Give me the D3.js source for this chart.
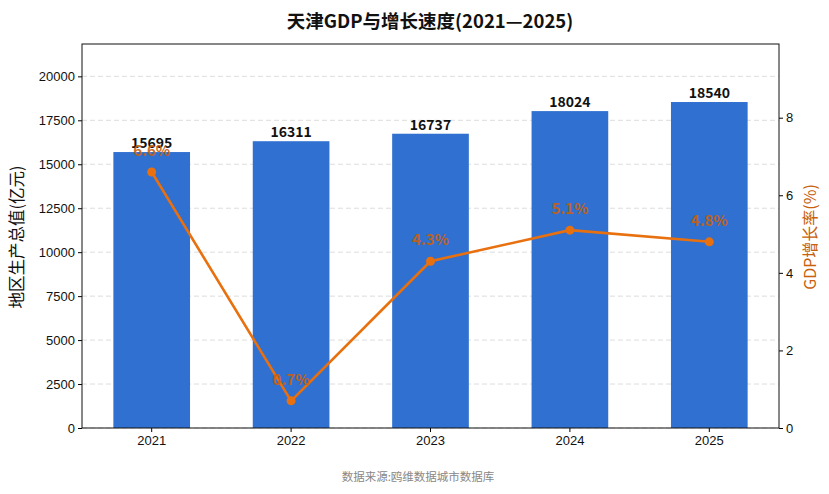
<!DOCTYPE html>
<html>
<head>
<meta charset="utf-8">
<script src="https://cdn.jsdelivr.net/npm/d3@7"></script>
<style>
  body { margin: 0; background: #fff; }
  svg { font-family: "Noto Sans CJK SC", "Noto Sans", sans-serif; }
</style>
</head>
<body>
<svg id="chart" width="829" height="494"></svg>
<script>
const years = ["2021", "2022", "2023", "2024", "2025"];
const gdpValues = [15695, 16311, 16737, 18024, 18540];
const growthRates = [6.6, 0.7, 4.3, 5.1, 4.8];
const leftTicks = [0, 2500, 5000, 7500, 10000, 12500, 15000, 17500, 20000];
const rightTicks = [0, 2, 4, 6, 8];

const svg = d3.select("#chart");
const margin = { top: 44, right: 50, bottom: 66, left: 82 };
const width = 829 - margin.left - margin.right;
const height = 494 - margin.top - margin.bottom;

const g = svg.append("g").attr("transform", `translate(${margin.left},${margin.top})`);

const x = d3.scaleBand().domain(years).range([0, width]).paddingInner(0.45).paddingOuter(0.225);
const yLeft = d3.scaleLinear().domain([0, d3.max(gdpValues) * 1.178]).range([height, 0]);
const yRight = d3.scaleLinear().domain([0, d3.max(growthRates) * 1.5]).range([height, 0]);

// grid
g.selectAll(".grid")
  .data(leftTicks)
  .enter()
  .append("line")
  .attr("class", "grid")
  .attr("x1", 0)
  .attr("x2", width)
  .attr("y1", (d) => yLeft(d))
  .attr("y2", (d) => yLeft(d))
  .attr("stroke", "#dddddd")
  .attr("stroke-dasharray", "5,3")
  .attr("stroke-width", 1);

// bars
g.selectAll(".bar")
  .data(gdpValues)
  .enter()
  .append("rect")
  .attr("class", "bar")
  .attr("x", (d, i) => x(years[i]))
  .attr("y", (d) => yLeft(d))
  .attr("width", x.bandwidth())
  .attr("height", (d) => height - yLeft(d))
  .attr("fill", "#3070d0");

g.selectAll(".barLabel")
  .data(gdpValues)
  .enter()
  .append("text")
  .attr("class", "barLabel")
  .attr("x", (d, i) => x(years[i]) + x.bandwidth() / 2)
  .attr("y", (d) => yLeft(d) - 4)
  .attr("text-anchor", "middle")
  .style("font-size", "14px")
  .style("font-weight", "bold")
  .style("fill", "#111")
  .text((d) => d);

// line
const cx = (i) => x(years[i]) + x.bandwidth() / 2;
const line = d3.line()
  .x((d, i) => cx(i))
  .y((d) => yRight(d));

g.append("path")
  .datum(growthRates)
  .attr("fill", "none")
  .attr("stroke", "#e8700e")
  .attr("stroke-width", 2.6)
  .attr("d", line);

g.selectAll(".dot")
  .data(growthRates)
  .enter()
  .append("circle")
  .attr("class", "dot")
  .attr("cx", (d, i) => cx(i))
  .attr("cy", (d) => yRight(d))
  .attr("r", 4.5)
  .attr("fill", "#e8700e");

g.selectAll(".rateLabel")
  .data(growthRates)
  .enter()
  .append("text")
  .attr("class", "rateLabel")
  .attr("x", (d, i) => cx(i))
  .attr("y", (d) => yRight(d) - 16)
  .attr("text-anchor", "middle")
  .style("font-size", "15px")
  .style("font-weight", "600")
  .style("fill", "#c8600c")
  .style("opacity", 0.9)
  .text((d) => d.toFixed(1) + "%");

// axes
const tickFont = (sel) => sel.selectAll("text").style("font-size", "13px").style("fill", "#111");

g.append("g")
  .attr("transform", `translate(0,${height})`)
  .call(d3.axisBottom(x).tickSize(4).tickPadding(4))
  .call(tickFont)
  .call((s) => s.select(".domain").remove());

g.append("g")
  .call(d3.axisLeft(yLeft).tickValues(leftTicks).tickFormat(d3.format("d")).tickSize(4).tickPadding(3))
  .call(tickFont)
  .call((s) => s.select(".domain").remove());

g.append("g")
  .attr("transform", `translate(${width},0)`)
  .call(d3.axisRight(yRight).tickValues(rightTicks).tickSize(4).tickPadding(3))
  .call(tickFont)
  .call((s) => s.select(".domain").remove());

// frame
g.append("rect")
  .attr("width", width)
  .attr("height", height)
  .attr("fill", "none")
  .attr("stroke", "#111")
  .attr("stroke-width", 1);

// titles
svg.append("text")
  .attr("x", 430)
  .attr("y", 28)
  .attr("text-anchor", "middle")
  .style("font-size", "18.5px")
  .style("font-weight", "bold")
  .style("fill", "#111")
  .text("天津GDP与增长速度(2021—2025)");

svg.append("text")
  .attr("transform", `translate(23,${margin.top + 193}) rotate(-90)`)
  .attr("text-anchor", "middle")
  .style("font-size", "16.5px")
  .style("fill", "#111")
  .text("地区生产总值(亿元)");

svg.append("text")
  .attr("transform", `translate(816,${margin.top + 193}) rotate(-90)`)
  .attr("text-anchor", "middle")
  .style("font-size", "16px")
  .style("fill", "#c8600c")
  .text("GDP增长率(%)");

svg.append("text")
  .attr("x", 418)
  .attr("y", 481)
  .attr("text-anchor", "middle")
  .style("font-size", "11.5px")
  .style("fill", "#888")
  .text("数据来源:鸥维数据城市数据库");
</script>
</body>
</html>
